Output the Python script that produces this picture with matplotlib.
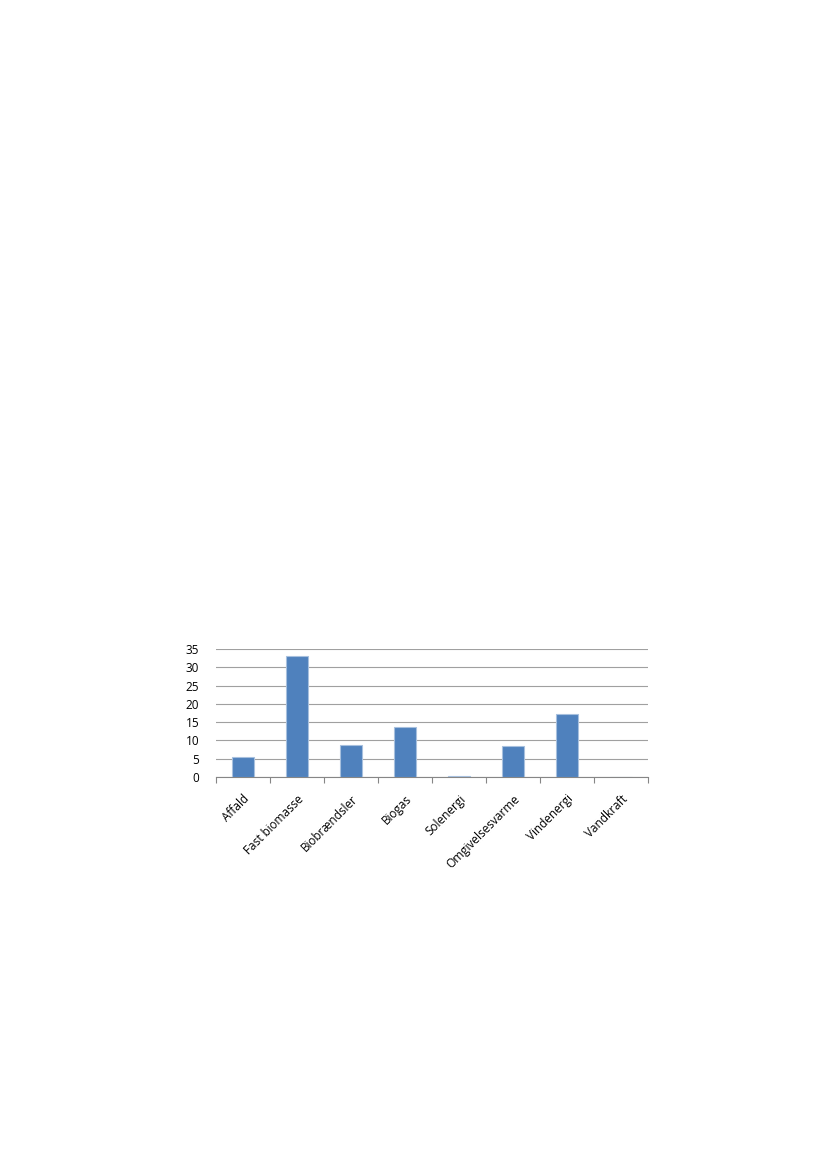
import matplotlib
matplotlib.use("Agg")
import matplotlib.pyplot as plt
import numpy as np

categories = ["Affald", "Fast biomasse", "Biobrændsler", "Biogas", "Solenergi",
              "Omgivelsesvarme", "Vindenergi", "Vandkraft"]
values = [5.4, 33.0, 8.7, 13.7, 0.3, 8.5, 17.1, 0.02]
yticks = [0, 5, 10, 15, 20, 25, 30, 35]

plt.rcParams['font.family'] = ['Open Sans', 'DejaVu Sans']

fig = plt.figure(figsize=(8.27, 11.69), dpi=100)
ax = fig.add_axes([0.261, 0.3353, 0.5225, 0.1095])

x = np.arange(len(categories))
ax.bar(x, values, width=0.41, color="#4F81BD", edgecolor="#A7C0DE", linewidth=0.8, zorder=3)

ax.set_xlim(-0.5, len(categories) - 0.5)
ax.set_ylim(0, 35)
ax.set_yticks(yticks)
ax.yaxis.grid(True, color="#A0A0A0", linewidth=0.8, zorder=0)
ax.set_axisbelow(True)

for s in ["top", "right", "left"]:
    ax.spines[s].set_visible(False)
ax.spines["bottom"].set_color("#868686")
ax.spines["bottom"].set_linewidth(0.8)

ax.tick_params(axis="y", length=0, labelsize=8.5, colors="#000000", pad=12)
ax.set_xticks(np.arange(len(categories) + 1) - 0.5, minor=True)
ax.set_xticks(x)
ax.set_xticklabels(categories, rotation=45, ha="right", rotation_mode="anchor", fontsize=8.5)
ax.tick_params(axis="x", which="major", length=0, pad=11)
ax.tick_params(axis="x", which="minor", length=4, color="#868686", width=0.8)

fig.savefig("out.png", dpi=100)
